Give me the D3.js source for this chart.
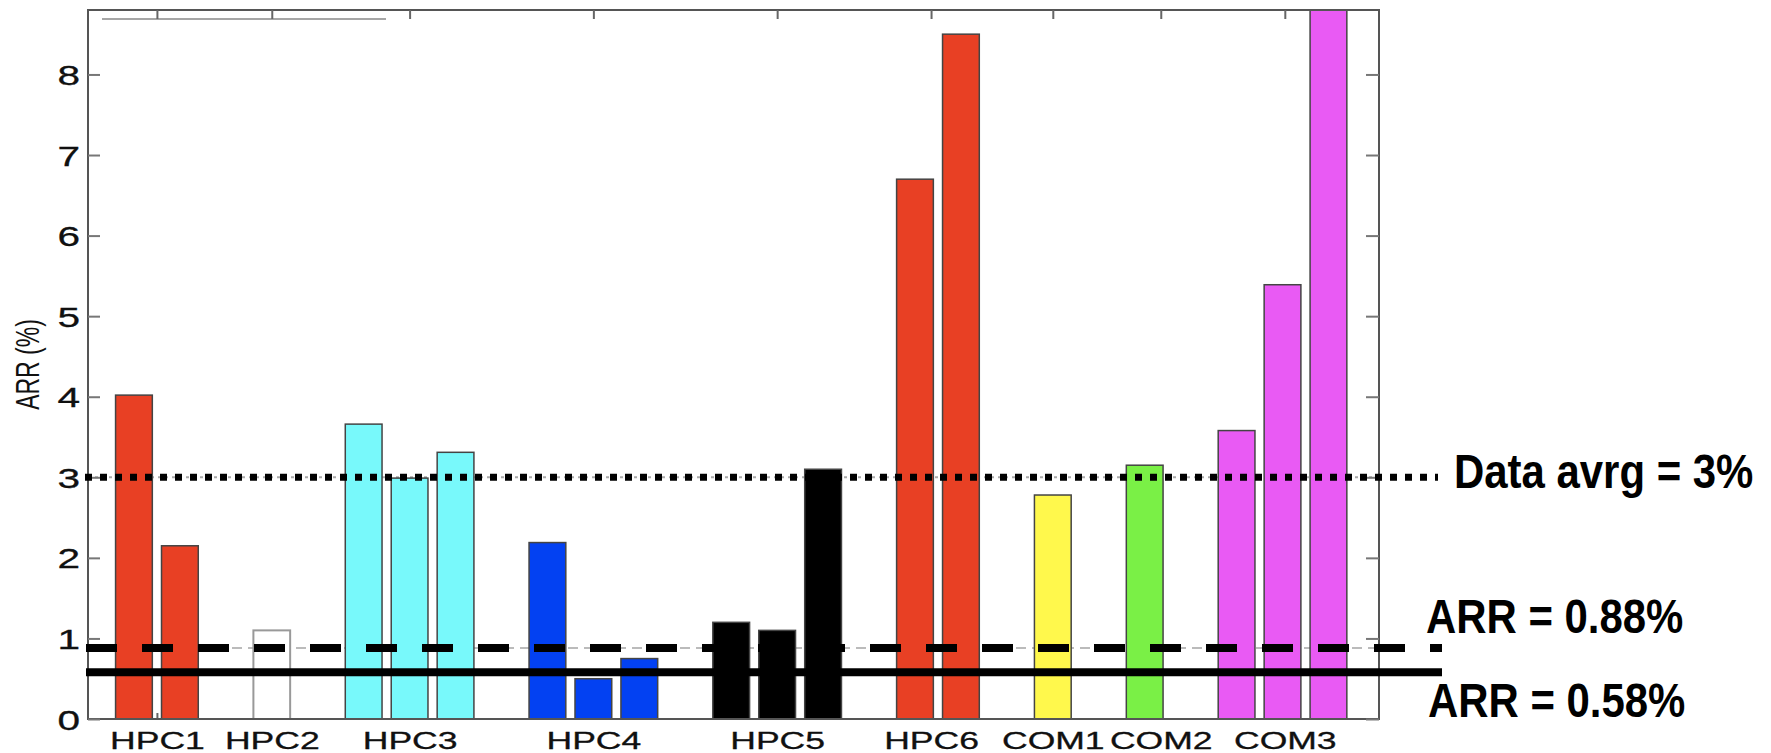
<!DOCTYPE html>
<meta charset="utf-8">
<style>
body { margin: 0; background: #fff; }
text { font-family: "Liberation Sans", Arial, sans-serif; fill: #111; }
.note { font-weight: bold; font-size: 41.5px; fill: #000; }
</style>
<svg width="1771" height="753"></svg>
<script src="https://cdn.jsdelivr.net/npm/d3@7"></script>
<script>

// data
var groups = ["HPC1", "HPC2", "HPC3", "HPC4", "HPC5", "HPC6", "COM1", "COM2", "COM3"];
var groupValues = [
  [4.02, 2.15],
  [1.1],
  [3.66, 2.99, 3.31],
  [2.19, 0.5, 0.75],
  [1.2, 1.1, 3.1],
  [6.7, 8.5],
  [2.78],
  [3.15],
  [3.58, 5.39, 10]
];
var groupColors = ["#e84024", "#ffffff", "#78f9fb", "#0341f2", "#000000", "#e84024", "#fff84c", "#7af046", "#e95af4"];
// where the category ticks sit, in bar slot units
var tickSlots = [0.5, 3, 6, 10, 14, 17.35, 20, 22.35, 25.05];
var yTicks = [0, 1, 2, 3, 4, 5, 6, 7, 8];
var refValues = [3, 0.88, 0.58];
var refLabels = ["Data avrg = 3%", "ARR = 0.88%", "ARR = 0.58%"];

var svg = d3.select("svg");
var pL = 88, pR = 1379, pT = 10, pB = 719;

// lay bars into slots, one empty slot between groups
var bars = [], slot = 0;
groupValues.forEach(function(vals, gi) {
  vals.forEach(function(v) {
    bars.push({ group: groups[gi], value: v, slot: slot, color: groupColors[gi] });
    slot++;
  });
  slot++;
});

var x = d3.scaleLinear().domain([-1, 27.1]).range([pL, pR]);
var y = d3.scaleLinear().domain([0, 8.8]).range([pB, pT]);

svg.append("defs").append("clipPath").attr("id", "plot")
  .append("rect").attr("x", pL).attr("y", pT)
  .attr("width", pR - pL).attr("height", pB - pT);

// faint original reference lines
svg.append("line")
    .attr("x1", pL).attr("x2", pR)
    .attr("y1", y(refValues[1])).attr("y2", y(refValues[1]))
    .attr("stroke", "#bbb").attr("stroke-width", 2).attr("stroke-dasharray", "10,6");
svg.append("line")
    .attr("x1", pL).attr("x2", pR)
    .attr("y1", y(refValues[0])).attr("y2", y(refValues[0]))
    .attr("stroke", "#aaa").attr("stroke-width", 2).attr("stroke-dasharray", "3,4");

// bottom ticks (under bars)
var xAxisB = svg.append("g")
    .attr("transform", "translate(0," + pB + ")")
    .call(d3.axisBottom(x).tickValues(tickSlots).tickSize(-6).tickFormat(function(d, i) { return groups[i]; }));
xAxisB.select(".domain").remove();
xAxisB.selectAll("line").attr("stroke", "#666").attr("stroke-width", 2);
xAxisB.selectAll("text")
    .attr("y", null).attr("dy", null)
    .attr("transform", "translate(0,30) scale(1.48,1)")
    .style("font-size", "24px").attr("fill", "#0a0a0a")
    .attr("stroke", "#0a0a0a").attr("stroke-width", 0.3);

svg.append("g").attr("clip-path", "url(#plot)")
  .selectAll("rect")
  .data(bars)
  .enter().append("rect")
    .attr("x", function(d) { return x(d.slot - 0.4); })
    .attr("width", x(0.8) - x(0))
    .attr("y", function(d) { return y(d.value); })
    .attr("height", function(d) { return y(0) - y(d.value); })
    .attr("fill", function(d) { return d.color; })
    .attr("stroke", function(d) { return d.color == "#ffffff" ? "#999" : "#444"; })
    .attr("stroke-width", function(d) { return d.color == "#ffffff" ? 2 : 1.5; });

// frame
svg.append("rect")
    .attr("x", pL).attr("y", pT)
    .attr("width", pR - pL).attr("height", pB - pT)
    .attr("fill", "none").attr("stroke", "#555").attr("stroke-width", 2);

// leftover legend line at the top
svg.append("line")
    .attr("x1", 102).attr("x2", 386).attr("y1", 19).attr("y2", 19)
    .attr("stroke", "#888").attr("stroke-width", 1.5);

var xAxisT = svg.append("g")
    .attr("transform", "translate(0," + pT + ")")
    .call(d3.axisTop(x).tickValues(tickSlots).tickSize(-9).tickFormat(""));
xAxisT.select(".domain").remove();
xAxisT.selectAll("line").attr("stroke", "#666").attr("stroke-width", 2);

var yAxisL = svg.append("g")
    .attr("transform", "translate(" + pL + ",0)")
    .call(d3.axisLeft(y).tickValues(yTicks).tickSize(-12));
yAxisL.select(".domain").remove();
yAxisL.selectAll("line").attr("stroke", "#777").attr("stroke-width", 2);
yAxisL.selectAll("text")
    .attr("x", null).attr("dy", "0.36em")
    .attr("transform", "translate(-8,0) scale(1.45,1)")
    .style("font-size", "28px").attr("fill", "#0a0a0a")
    .attr("stroke", "#0a0a0a").attr("stroke-width", 0.3);

var yAxisR = svg.append("g")
    .attr("transform", "translate(" + pR + ",0)")
    .call(d3.axisRight(y).tickValues(yTicks).tickSize(-13).tickFormat(""));
yAxisR.select(".domain").remove();
yAxisR.selectAll("line").attr("stroke", "#777").attr("stroke-width", 2);

svg.append("text")
    .attr("transform", "translate(39," + y(4.4) + ") scale(1.45,1) rotate(-90)")
    .attr("text-anchor", "middle")
    .style("font-size", "23px")
    .text("ARR (%)");

// black reference lines drawn on top
svg.append("line")
    .attr("x1", 85).attr("x2", 1438)
    .attr("y1", y(refValues[0])).attr("y2", y(refValues[0]))
    .attr("stroke", "#000").attr("stroke-width", 7).attr("stroke-dasharray", "7,8");
svg.append("line")
    .attr("x1", 86).attr("x2", 1442)
    .attr("y1", y(refValues[1])).attr("y2", y(refValues[1]))
    .attr("stroke", "#000").attr("stroke-width", 8).attr("stroke-dasharray", "31,25");
svg.append("line")
    .attr("x1", 86).attr("x2", 1442)
    .attr("y1", y(refValues[2])).attr("y2", y(refValues[2]))
    .attr("stroke", "#000").attr("stroke-width", 8);

// tall bold notes: stretch vertically about the baseline
var notePos = [[1454, y(refValues[0]) + 11], [1426, y(refValues[1]) - 15], [1428, y(refValues[2]) + 45]];
refLabels.forEach(function(t, i) {
  svg.append("text").attr("class", "note")
      .attr("transform", "translate(" + notePos[i][0] + "," + notePos[i][1] + ") scale(1.01,1.16)")
      .text(t);
});

</script>
